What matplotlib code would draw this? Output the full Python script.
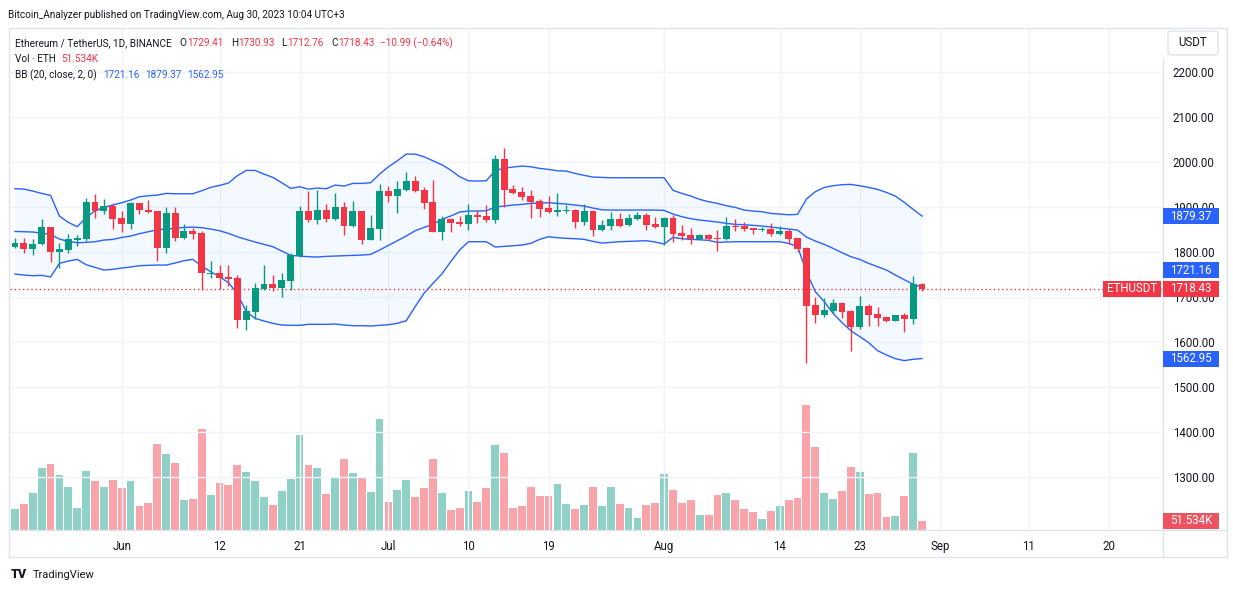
import numpy as np
import pandas as pd
import matplotlib
matplotlib.use("Agg")
import matplotlib.pyplot as plt
import matplotlib.dates as mdates
from matplotlib.patches import Rectangle, FancyBboxPatch
from matplotlib.lines import Line2D
from matplotlib.transforms import blended_transform_factory as btf

plt.rcParams["font.family"] = ["Roboto", "DejaVu Sans"]

W, H = 1233, 592

# ETH/USDT daily candles, 20 May .. 30 Aug 2023
dates = pd.date_range("2023-05-20", "2023-08-30", freq="D")

opens = [1811.3, 1818.7, 1805.4, 1816.5, 1854.2, 1800.2, 1804.6, 1826.8, 1829.1, 1909.7,
         1891.2, 1900.8, 1874.2, 1860.9, 1907.5, 1892.0, 1890.5, 1809.1, 1885.3, 1831.3,
         1845.3, 1840.9, 1751.4, 1752.1, 1744.0, 1741.0, 1649.2, 1667.0, 1718.1, 1727.7,
         1720.3, 1735.8, 1790.6, 1890.5, 1871.2, 1892.7, 1873.5, 1899.4, 1857.2, 1890.5,
         1826.8, 1851.3, 1934.9, 1924.5, 1937.1, 1957.1, 1937.1, 1910.5, 1844.6, 1872.7,
         1866.1, 1862.4, 1881.6, 1879.4, 1870.5, 2005.9, 1939.3, 1932.7, 1923.8, 1912.7,
         1897.1, 1889.0, 1891.2, 1892.7, 1866.1, 1890.5, 1848.3, 1857.9, 1872.7, 1859.4,
         1872.7, 1881.6, 1861.6, 1855.0, 1874.9, 1841.7, 1837.2, 1828.3, 1837.2, 1830.5,
         1828.3, 1857.2, 1856.4, 1852.7, 1849.3, 1850.5, 1839.4, 1846.2, 1831.4, 1808.5,
         1681.9, 1660.4, 1669.3, 1686.4, 1668.6, 1633.8, 1679.7, 1661.9, 1655.3, 1647.1,
         1659.7, 1651.6, 1729.41]
highs = [1829.8, 1829.8, 1827.5, 1872.0, 1855.0, 1818.7, 1838.7, 1836.5, 1918.6, 1927.5,
         1916.4, 1907.5, 1889.7, 1910.5, 1908.3, 1914.2, 1891.5, 1898.6, 1898.6, 1860.9,
         1853.5, 1845.3, 1778.7, 1770.6, 1770.6, 1749.1, 1681.8, 1729.9, 1769.9, 1747.7,
         1752.1, 1796.5, 1900.8, 1934.1, 1937.1, 1906.0, 1930.4, 1910.5, 1912.7, 1891.5,
         1881.6, 1950.4, 1946.0, 1957.8, 1977.1, 1968.2, 1943.8, 1959.3, 1879.4, 1874.9,
         1879.4, 1906.0, 1892.7, 1903.8, 2014.8, 2030.3, 1948.2, 1943.8, 1937.1, 1917.1,
         1923.8, 1930.4, 1903.8, 1894.9, 1906.0, 1892.7, 1870.5, 1888.3, 1886.0, 1883.8,
         1888.3, 1886.0, 1877.2, 1877.2, 1881.6, 1859.4, 1852.7, 1839.4, 1839.4, 1848.3,
         1877.2, 1872.7, 1866.1, 1853.5, 1855.0, 1863.8, 1857.2, 1849.9, 1831.4, 1811.5,
         1699.7, 1697.5, 1694.5, 1688.6, 1670.8, 1701.9, 1684.2, 1677.5, 1655.3, 1660.2,
         1664.1, 1746.3, 1730.93]
lows = [1809.1, 1798.0, 1793.5, 1815.0, 1778.0, 1763.2, 1798.0, 1813.5, 1824.6, 1875.7,
        1883.1, 1849.8, 1843.1, 1849.8, 1883.1, 1886.0, 1780.2, 1798.0, 1824.6, 1829.1,
        1829.1, 1715.8, 1741.0, 1718.1, 1724.7, 1631.5, 1627.0, 1651.5, 1715.8, 1713.6,
        1700.3, 1715.8, 1789.1, 1866.8, 1861.6, 1866.8, 1871.2, 1838.0, 1855.7, 1818.0,
        1826.0, 1826.8, 1911.2, 1886.8, 1934.9, 1932.7, 1894.9, 1843.0, 1826.8, 1844.6,
        1857.9, 1849.0, 1864.6, 1866.8, 1863.8, 1899.4, 1928.2, 1915.0, 1874.9, 1877.2,
        1886.0, 1879.4, 1886.0, 1852.7, 1859.4, 1835.0, 1846.1, 1848.3, 1855.0, 1857.2,
        1870.5, 1848.3, 1852.7, 1815.7, 1822.4, 1826.1, 1817.2, 1826.8, 1826.1, 1801.7,
        1826.1, 1846.1, 1846.1, 1839.4, 1845.3, 1835.7, 1837.2, 1816.6, 1800.3, 1552.4,
        1642.7, 1656.0, 1663.4, 1652.3, 1580.5, 1629.4, 1636.0, 1636.0, 1644.9, 1646.8,
        1622.7, 1640.5, 1712.76]
closes = [1818.7, 1805.4, 1816.5, 1854.2, 1800.2, 1806.1, 1827.5, 1831.3, 1909.7, 1891.2,
          1900.8, 1873.5, 1860.9, 1907.5, 1892.0, 1888.3, 1809.1, 1885.3, 1831.3, 1845.3,
          1840.2, 1752.1, 1752.8, 1742.5, 1740.3, 1649.2, 1667.7, 1718.8, 1727.7, 1719.5,
          1737.3, 1792.1, 1890.5, 1870.5, 1892.7, 1873.5, 1899.4, 1857.9, 1890.5, 1826.8,
          1852.7, 1934.9, 1924.5, 1939.3, 1957.1, 1934.9, 1909.0, 1844.6, 1872.7, 1864.6,
          1861.6, 1881.6, 1877.2, 1870.5, 2005.9, 1937.1, 1930.4, 1921.6, 1910.5, 1894.9,
          1888.3, 1892.7, 1892.7, 1866.1, 1890.5, 1848.3, 1859.4, 1872.7, 1857.2, 1874.9,
          1881.6, 1859.4, 1855.0, 1874.9, 1839.4, 1835.0, 1828.3, 1837.2, 1828.3, 1829.1,
          1857.2, 1855.0, 1850.5, 1848.3, 1850.5, 1839.4, 1846.1, 1829.2, 1807.0, 1680.4,
          1660.4, 1670.8, 1686.4, 1667.1, 1633.8, 1679.7, 1660.4, 1653.8, 1647.1, 1659.7,
          1651.6, 1729.42, 1718.43]
# volume, thousands of ETH
volumes = [120, 149, 212, 355, 378, 315, 246, 126, 338, 281,
           246, 286, 241, 281, 137, 155, 492, 435, 384, 172,
           178, 578, 200, 269, 258, 372, 332, 281, 189, 143,
           223, 292, 544, 372, 355, 206, 304, 407, 326, 304,
           218, 636, 160, 229, 286, 189, 241, 407, 212, 115,
           126, 223, 160, 241, 487, 441, 126, 137, 246, 195,
           195, 263, 149, 120, 143, 246, 137, 246, 149, 126,
           69, 143, 155, 321, 229, 155, 172, 86, 86, 200,
           212, 172, 120, 103, 63, 109, 137, 172, 183, 716,
           475, 212, 178, 223, 361, 332, 206, 212, 74, 80,
           195, 441, 51.534]
# Bollinger bands (20, close, 2) as shown
bb_upper = [1940.1, 1939.3, 1934.9, 1929.7, 1925.3, 1879.4, 1865.3, 1855.7, 1875.7, 1891.2,
            1898.6, 1903.8, 1909.0, 1914.9, 1922.3, 1924.5, 1926.0, 1929.7, 1929.0, 1929.0,
            1929.0, 1935.6, 1943.0, 1947.5, 1952.7, 1968.9, 1980.8, 1980.8, 1972.6, 1965.2,
            1953.4, 1940.8, 1944.5, 1939.3, 1941.5, 1940.1, 1948.2, 1946.0, 1951.9, 1951.9,
            1953.4, 1972.6, 1988.9, 2002.2, 2017.0, 2017.0, 2011.1, 2002.2, 1993.3, 1981.5,
            1966.7, 1957.8, 1957.1, 1957.8, 1980.0, 1985.9, 1988.2, 1990.4, 1988.9, 1985.2,
            1983.0, 1980.0, 1979.3, 1974.1, 1969.7, 1966.0, 1965.2, 1964.5, 1964.5, 1964.5,
            1964.5, 1964.5, 1964.5, 1964.5, 1936.4, 1929.7, 1923.8, 1916.4, 1911.2, 1907.5,
            1902.3, 1898.6, 1892.7, 1890.5, 1889.0, 1885.3, 1883.8, 1882.3, 1883.1, 1917.1,
            1933.4, 1943.0, 1946.7, 1949.0, 1949.7, 1946.7, 1943.0, 1938.6, 1931.9, 1923.8,
            1909.9, 1894.4, 1879.37]
bb_basis = [1845.3, 1844.6, 1843.9, 1841.6, 1838.7, 1828.3, 1823.1, 1820.2, 1820.9, 1822.4,
            1826.1, 1827.5, 1832.0, 1835.0, 1840.2, 1844.6, 1849.0, 1850.5, 1852.0, 1854.2,
            1854.9, 1853.5, 1850.5, 1846.8, 1840.9, 1833.5, 1827.5, 1821.7, 1816.5, 1811.3,
            1801.7, 1792.1, 1790.6, 1789.1, 1788.4, 1789.8, 1790.6, 1791.3, 1792.1, 1792.8,
            1794.3, 1803.9, 1814.3, 1824.6, 1835.0, 1846.8, 1854.2, 1860.9, 1872.0, 1879.4,
            1888.3, 1890.5, 1890.5, 1891.2, 1899.4, 1901.6, 1903.8, 1905.3, 1907.5, 1908.2,
            1909.0, 1907.5, 1906.0, 1903.8, 1901.6, 1897.1, 1893.4, 1892.7, 1892.7, 1892.7,
            1892.7, 1892.7, 1892.7, 1892.0, 1883.8, 1877.9, 1873.5, 1870.5, 1868.3, 1866.1,
            1863.1, 1860.9, 1860.1, 1858.7, 1857.2, 1855.0, 1852.7, 1850.5, 1848.3, 1832.8,
            1823.9, 1816.5, 1807.6, 1798.0, 1789.1, 1783.2, 1774.3, 1766.9, 1759.5, 1748.4,
            1738.0, 1728.0, 1721.16]
bb_lower = [1750.6, 1748.4, 1746.9, 1747.7, 1744.0, 1774.3, 1779.5, 1783.2, 1771.3, 1765.4,
            1759.5, 1761.0, 1763.9, 1766.2, 1769.1, 1769.9, 1770.6, 1770.6, 1775.0, 1780.2,
            1783.2, 1768.4, 1755.8, 1744.7, 1731.4, 1707.7, 1667.0, 1652.2, 1646.3, 1641.1,
            1637.4, 1636.7, 1636.7, 1638.9, 1638.9, 1638.9, 1639.6, 1637.4, 1635.9, 1635.9,
            1635.2, 1636.7, 1638.1, 1641.1, 1647.0, 1678.1, 1707.7, 1729.9, 1750.6, 1778.0,
            1803.9, 1822.4, 1822.4, 1822.4, 1810.6, 1812.0, 1813.5, 1815.0, 1818.7, 1827.6,
            1833.5, 1831.3, 1829.8, 1829.1, 1827.6, 1823.1, 1819.4, 1820.9, 1822.4, 1823.1,
            1823.9, 1824.6, 1821.7, 1817.2, 1832.0, 1829.1, 1827.6, 1826.8, 1825.4, 1820.9,
            1821.7, 1822.4, 1822.4, 1822.4, 1822.4, 1822.4, 1822.4, 1818.7, 1812.0, 1755.0,
            1711.5, 1689.3, 1663.4, 1642.7, 1624.9, 1611.6, 1598.3, 1580.5, 1570.9, 1562.7,
            1558.3, 1561.3, 1562.95]

tick_dates = ["2023-06-01", "2023-06-12", "2023-06-21", "2023-07-01", "2023-07-10", "2023-07-19",
              "2023-08-01", "2023-08-14", "2023-08-23", "2023-09-01", "2023-09-11", "2023-09-20"]
tick_labels = ["Jun", "12", "21", "Jul", "10", "19", "Aug", "14", "23", "Sep", "11", "20"]
price_ticks = [1300, 1400, 1500, 1600, 1700, 1800, 1900, 2000, 2100, 2200]

UP = "#089981"
DOWN = "#F23645"
BLUE = "#2962FF"
TEXT = "#131722"
GRID = "#F0F3FA"
BORDER = "#E0E3EB"

o = np.array(opens)
c = np.array(closes)
x = mdates.date2num(dates)
cols = [UP if cc >= oo else DOWN for oo, cc in zip(o, c)]


def fx(px):
    return px / W


def fy(py):
    return 1 - py / H


fig = plt.figure(figsize=(W / 100, H / 100), dpi=100)
fig.patch.set_facecolor("white")

rect = [fx(10), fy(530), fx(1163) - fx(10), fy(29) - fy(530)]
vax = fig.add_axes(rect)
ax = fig.add_axes(rect)
ax.patch.set_visible(False)

xlim = (x[0] - 0.56, x[0] + 129.1)
ylim = (1182.2, 2294.8)

# grid (behind volume)
tick_x = mdates.date2num(pd.to_datetime(tick_dates))
vax.hlines(price_ticks, 0, 1, transform=btf(vax.transAxes, ax.transData), colors=GRID, lw=1)
vax.vlines(tick_x, 0, 1, transform=btf(vax.transData, vax.transAxes), colors=GRID, lw=1)

# volume
vax.bar(x, volumes, width=0.88, color=cols, alpha=0.45, lw=0)
vax.set_xlim(*xlim)
vax.set_ylim(0, 501 * volumes[-1] / 9)
vax.axis("off")

# bollinger bands
ax.fill_between(x, bb_lower, bb_upper, color="#2196F3", alpha=0.05, lw=0, zorder=1)
for band in (bb_upper, bb_basis, bb_lower):
    ax.plot(x, band, color=BLUE, lw=1, zorder=2)

# last price line
ax.axhline(closes[-1], color=DOWN, lw=1, ls=(0, (1, 2)), zorder=2)

# candles
ax.vlines(x, lows, highs, colors=cols, lw=1, zorder=3)
body_lo = np.minimum(o, c)
body_h = np.maximum(np.abs(c - o), 1.5)
ax.bar(x, body_h, bottom=body_lo, width=0.78, color=cols, lw=0, zorder=4)

ax.set_xlim(*xlim)
ax.set_ylim(*ylim)
for s in ax.spines.values():
    s.set_visible(False)
ax.yaxis.tick_right()
ax.set_yticks(price_ticks)
ax.set_yticklabels([f"{v:.2f}" for v in price_ticks])
ax.set_xticks(tick_x)
ax.set_xticklabels(tick_labels)
ax.tick_params(axis="y", length=0, pad=7, labelsize=8.3, labelcolor=TEXT)
ax.tick_params(axis="x", length=0, pad=7, labelsize=8.3, labelcolor=TEXT)

# frame and separators
fig.add_artist(Rectangle((fx(9), fy(557)), fx(1227) - fx(9), fy(28) - fy(557),
                         transform=fig.transFigure, fill=False, ec=BORDER, lw=1))
fig.add_artist(Line2D([fx(9), fx(1227)], [fy(530), fy(530)], transform=fig.transFigure, color=BORDER, lw=1))
fig.add_artist(Line2D([fx(1163), fx(1163)], [fy(58), fy(557)], transform=fig.transFigure, color=BORDER, lw=1))

# USDT button
fig.add_artist(FancyBboxPatch((fx(1168), fy(55)), fx(1218) - fx(1168), fy(31) - fy(55),
                              boxstyle="round,pad=0,rounding_size=0.004", transform=fig.transFigure,
                              fc="white", ec=BORDER, lw=1))
fig.text(fx(1193), fy(43), "USDT", ha="center", va="center", fontsize=8.3, color=TEXT)


def side_label(axis, value, text, color, dy=0, x0=1163, x1=1219):
    ypx = H - axis.transData.transform((x[0], value))[1] + dy
    fig.add_artist(Rectangle((fx(x0), fy(ypx + 8)), fx(x1) - fx(x0), 16 / H,
                             transform=fig.transFigure, color=color, lw=0, zorder=5))
    fig.text(fx((x0 + x1) / 2), fy(ypx), text, ha="center", va="center",
             fontsize=8.3, color="white", zorder=6)


side_label(ax, bb_upper[-1], f"{bb_upper[-1]:.2f}", BLUE)
side_label(ax, bb_basis[-1], f"{bb_basis[-1]:.2f}", BLUE, dy=-17)
side_label(ax, closes[-1], f"{closes[-1]:.2f}", DOWN)
side_label(ax, closes[-1], "ETHUSDT", DOWN, x0=1103, x1=1161)
side_label(ax, bb_lower[-1], f"{bb_lower[-1]:.2f}", BLUE)
side_label(vax, volumes[-1], f"{volumes[-1]:.3f}K", "#EF5360")

# header
fs = 7.2
renderer = fig.canvas.get_renderer()


def run_text(parts, px, py):
    # consecutive pieces of one line, each one starting where the last one ended
    for t, col, gap in parts:
        px += gap
        txt = fig.text(fx(px), fy(py), t, fontsize=fs, color=col, va="center")
        px += txt.get_window_extent(renderer).width


fig.text(fx(8), fy(15), "Bitcoin_Analyzer published on TradingView.com, Aug 30, 2023 10:04 UTC+3",
         fontsize=fs, color=TEXT, va="center")
chg = closes[-1] - closes[-2]
pct = chg / closes[-2] * 100
run_text([("Ethereum / TetherUS, 1D, BINANCE", TEXT, 0),
          ("O", TEXT, 8), (f"{opens[-1]:.2f}", DOWN, 0.5),
          ("H", TEXT, 7), (f"{highs[-1]:.2f}", DOWN, 0.5),
          ("L", TEXT, 7), (f"{lows[-1]:.2f}", DOWN, 0.5),
          ("C", TEXT, 7), (f"{closes[-1]:.2f}", DOWN, 0.5),
          (f"{chg:.2f} ({pct:.2f}%)".replace("-", "\u2212"), DOWN, 6)], 15, 43)
run_text([("Vol \u00b7 ETH", TEXT, 0), (f"{volumes[-1]:.3f}K", DOWN, 5)], 15, 59)
run_text([("BB (20, close, 2, 0)", TEXT, 0), (f"{bb_basis[-1]:.2f}", BLUE, 6),
          (f"{bb_upper[-1]:.2f}", BLUE, 6), (f"{bb_lower[-1]:.2f}", BLUE, 6)], 15, 75)

# footer
fig.text(fx(11), fy(575), "TV", fontsize=9, fontweight="heavy", color=TEXT, va="center")
fig.text(fx(33), fy(575), "TradingView", fontsize=8, color=TEXT, va="center")

fig.savefig("out.png", dpi=100, facecolor="white")
